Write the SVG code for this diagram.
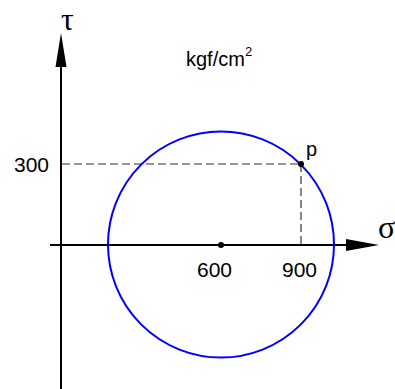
<svg xmlns="http://www.w3.org/2000/svg" width="395" height="389" viewBox="0 0 395 389">
<style>
.ax{stroke:#000;stroke-width:2;fill:none}
.dash{stroke:#333;stroke-width:1.2;stroke-dasharray:8,4;fill:none}
.lbl{font-family:"Liberation Sans",Arial,sans-serif;fill:#000}
.greek{font-family:"Liberation Serif","Times New Roman",serif;fill:#000}
</style>
<rect width="395" height="389" fill="#fff"/>
<g id="connectors">
<line class="dash" x1="62" y1="164" x2="301" y2="164"/>
<line class="dash" x1="301" y1="164" x2="301" y2="245"/>
<line class="ax" x1="50" y1="245" x2="350" y2="245"/>
<polygon points="379,245 346,239 346,251" fill="#000"/>
<line class="ax" x1="61" y1="389" x2="61" y2="64"/>
<polygon points="61,33 55.5,67 66.5,67" fill="#000"/>
</g>
<g id="circle">
<circle cx="221" cy="244.5" r="113" fill="none" stroke="#0000ff" stroke-width="2"/>
</g>
<g id="center">
<circle cx="221" cy="245" r="3" fill="#000"/>
<text class="lbl" x="214.5" y="277" font-size="21" text-anchor="middle">600</text>
</g>
<g id="point-p">
<circle cx="301" cy="164" r="3" fill="#000"/>
<text class="lbl" x="306" y="156" font-size="20">p</text>
</g>
<g id="labels">
<text class="lbl" x="299.5" y="277" font-size="21" text-anchor="middle">900</text>
<text class="lbl" x="49" y="172" font-size="21" text-anchor="end">300</text>
<text class="lbl" x="186" y="66" font-size="20">kgf/cm<tspan font-size="13" dy="-10">2</tspan></text>
<text class="greek" x="61" y="30" font-size="32">τ</text>
<text class="greek" x="378" y="238" font-size="32">σ</text>
</g>
</svg>
